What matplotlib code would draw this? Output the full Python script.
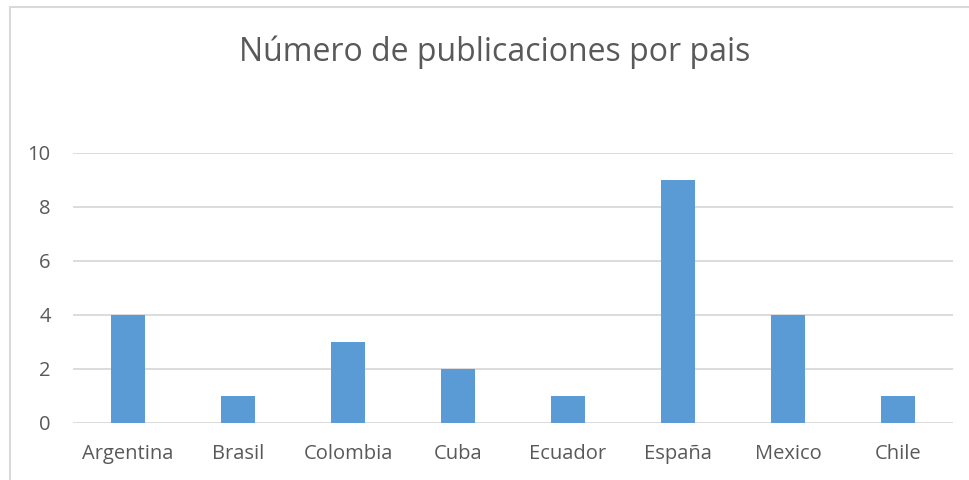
import matplotlib
matplotlib.use("Agg")
import matplotlib.pyplot as plt
from matplotlib.patches import Rectangle

categories = ["Argentina", "Brasil", "Colombia", "Cuba", "Ecuador", "España", "Mexico", "Chile"]
values = [4, 1, 3, 2, 1, 9, 4, 1]
yticks = [0, 2, 4, 6, 8, 10]
title = "Número de publicaciones por pais"

plt.rcParams['font.family'] = ['Open Sans', 'DejaVu Sans']
text_color = "#595959"
grid_color = "#D9D9D9"
bar_color = "#5B9BD5"

fig = plt.figure(figsize=(9.69, 4.80), dpi=100)
W, H = 969, 480
ax = fig.add_axes([73 / W, (H - 423) / H, 880 / W, 270 / H])

x = list(range(len(categories)))
ax.bar(x, values, width=0.31, color=bar_color, zorder=3)
ax.set_xlim(-0.5, len(categories) - 0.5)
ax.set_ylim(0, 10)
ax.set_yticks(yticks)
ax.set_xticks(x)
ax.set_xticklabels(categories)
ax.yaxis.grid(True, color=grid_color, linewidth=1.3, zorder=0)
for s in ax.spines.values():
    s.set_visible(False)
ax.tick_params(axis='both', length=0, colors=text_color, labelsize=14.5)
ax.tick_params(axis='y', pad=16)
ax.tick_params(axis='x', pad=15)

fig.text(495 / W, (H - 52) / H, title, ha='center', va='center', fontsize=23, color=text_color)

fig.patches.append(Rectangle((10 / W, -0.1), 1.2, (H - 7) / H + 0.1, transform=fig.transFigure,
                             fill=False, edgecolor=grid_color, linewidth=1.5))

fig.savefig("out.png", dpi=100)
